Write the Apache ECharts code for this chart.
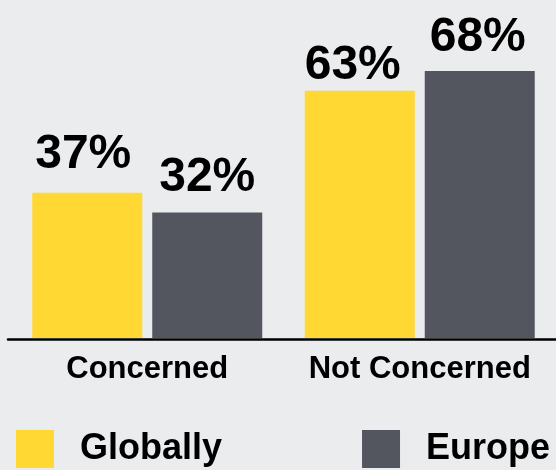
<!DOCTYPE html>
<html>
<head>
<meta charset="utf-8">
<script src="https://cdn.jsdelivr.net/npm/echarts@6/dist/echarts.min.js"></script>
<style>
  html, body { margin: 0; padding: 0; background: #ebecee; }
  #chart { width: 556px; height: 470px; }
</style>
</head>
<body>
<div id="chart"></div>
<script>
const categories = ['Concerned', 'Not Concerned']
const seriesNames = ['Globally', 'Europe']
const globally = [37, 63]
const europe = [32, 68]

// small nudges so the value labels sit where the original put them
const globallyLabelShift = [[-4, 14], [-7, 1]]
const europeLabelShift = [[0, 11], [-2, 9]]

const font = 'Arial, "Liberation Sans", Helvetica, sans-serif'
const yellow = '#ffd833'
const grey = '#53565e'

const chart = echarts.init(document.getElementById('chart'))

function barSeries(name, values, shifts, color) {
  return {
    name: name,
    type: 'bar',
    barWidth: 110,
    barGap: '9.09%',
    itemStyle: { color: color },
    label: {
      show: true,
      position: 'top',
      formatter: '{c}%',
      color: '#000',
      fontFamily: font,
      fontWeight: 'bold',
      fontSize: 48
    },
    data: values.map((v, i) => ({
      value: v,
      label: { distance: shifts[i][1], offset: [shifts[i][0], 0] }
    }))
  }
}

chart.setOption({
  backgroundColor: '#ebecee',
  animation: false,
  legend: {
    left: 16,
    top: 430,
    padding: 0,
    itemWidth: 38,
    itemHeight: 38,
    itemGap: 140,
    icon: 'rect',
    textStyle: {
      color: '#000',
      fontFamily: font,
      fontWeight: 'bold',
      fontSize: 36,
      padding: [5, 0, 0, 21]
    },
    data: seriesNames
  },
  grid: [
    { left: 11, width: 547, top: 24, bottom: 132 },
    // second grid only carries the long baseline across the whole width
    { left: 8, right: 0, top: 24, bottom: 131 }
  ],
  xAxis: [
    {
      type: 'category',
      gridIndex: 0,
      data: categories,
      axisLine: { show: false },
      axisTick: { show: false },
      axisLabel: {
        interval: 0,
        margin: 16,
        color: '#000',
        fontFamily: font,
        fontWeight: 'bold',
        fontSize: 31
      }
    },
    {
      type: 'category',
      gridIndex: 1,
      data: [''],
      axisLine: { show: true, lineStyle: { color: '#000', width: 2.5 } },
      axisTick: { show: false },
      axisLabel: { show: false }
    }
  ],
  yAxis: [
    { type: 'value', gridIndex: 0, min: 0, max: 80, show: false },
    { type: 'value', gridIndex: 1, min: 0, max: 80, show: false }
  ],
  series: [
    barSeries(seriesNames[0], globally, globallyLabelShift, yellow),
    barSeries(seriesNames[1], europe, europeLabelShift, grey)
  ]
})
</script>
</body>
</html>
